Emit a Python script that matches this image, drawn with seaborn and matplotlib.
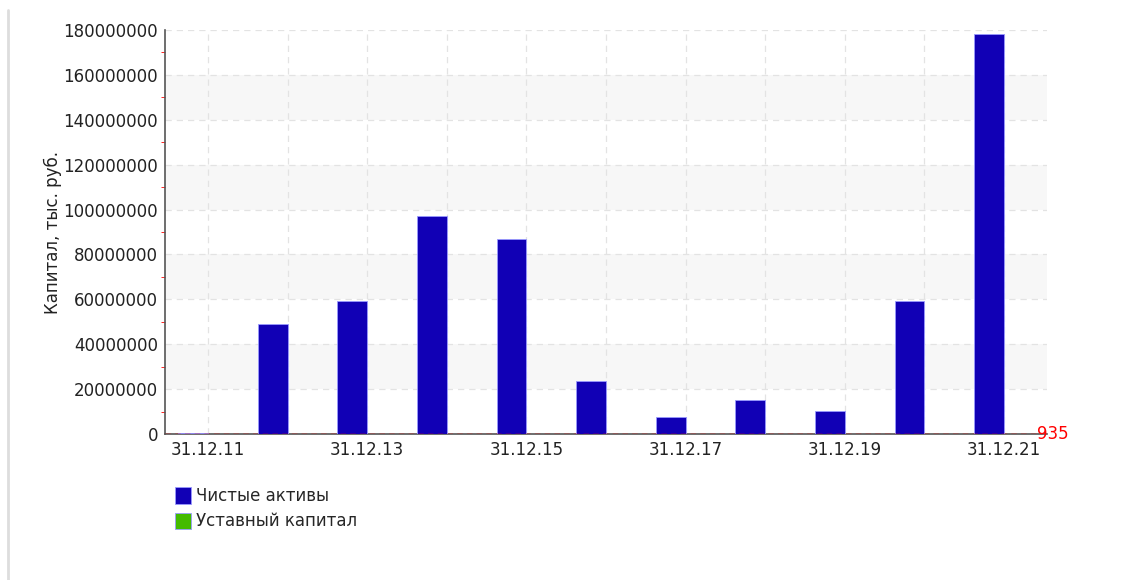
import matplotlib
matplotlib.use('Agg')
import pandas as pd
import matplotlib.pyplot as plt
import seaborn as sns
from matplotlib.ticker import FuncFormatter, MultipleLocator
from matplotlib.lines import Line2D

# chart data
dates = ['31.12.11', '31.12.12', '31.12.13', '31.12.14', '31.12.15', '31.12.16',
         '31.12.17', '31.12.18', '31.12.19', '31.12.20', '31.12.21']
net_assets = [400000, 49000000, 59300000, 97100000, 86900000, 23600000,
              7600000, 15100000, 10200000, 59300000, 178200000]
charter_capital = [935] * 11
series_names = ['Чистые активы', 'Уставный капитал']
last_label = '935'

df = pd.DataFrame({
    'date': dates * 2,
    'value': net_assets + charter_capital,
    'series': [series_names[0]] * len(dates) + [series_names[1]] * len(dates),
})

sns.set_style('white')
plt.rcParams['font.family'] = ['DejaVu Sans']

fig = plt.figure(figsize=(11.31, 5.8), dpi=100)
ax = fig.add_axes([165 / 1131, 1 - 434 / 580, (1047 - 165) / 1131, (434 - 30) / 580])

# alternating background bands
for lo in [20e6, 60e6, 100e6, 140e6]:
    ax.axhspan(lo, lo + 20e6, color='#f7f7f7', zorder=0, lw=0)

sns.barplot(df, x='date', y='value', hue='series', order=dates,
            palette=['#1100b5', '#44bb00'], saturation=1, width=0.75, gap=0,
            edgecolor='#9a9aff', linewidth=0.6, ax=ax, zorder=3)

ax.axhline(0, color='red', ls=(0, (4, 3)), lw=1, zorder=4)

ax.set_xlim(-0.54, 10.54)
ax.set_ylim(0, 180e6)
ax.yaxis.set_major_locator(MultipleLocator(20e6))
ax.yaxis.set_minor_locator(MultipleLocator(10e6))
ax.yaxis.set_major_formatter(FuncFormatter(lambda v, _: f'{int(round(v))}'))
ax.set_xticks(range(len(dates)))
ax.set_xticklabels([d if i % 2 == 0 else '' for i, d in enumerate(dates)])

ax.grid(True, which='major', color='#e3e3e3', ls=(0, (5, 4)), lw=0.9)
ax.set_axisbelow(True)
for s in ['top', 'right']:
    ax.spines[s].set_visible(False)
for s in ['left', 'bottom']:
    ax.spines[s].set_color('#555555')
    ax.spines[s].set_linewidth(1.2)

fs = 12
ax.tick_params(axis='both', which='major', labelsize=fs, colors='#222222')
ax.tick_params(axis='y', which='major', length=5, direction='out', color='#555555', pad=0)
ax.tick_params(axis='y', which='minor', length=3, direction='out', color='red', left=True)
ax.tick_params(axis='x', which='major', length=6, direction='inout', color='#333333', pad=2)

ax.set_xlabel('')
ax.set_ylabel('Капитал, тыс. руб.', fontsize=fs, color='#222222', labelpad=1)

ax.text(10.41, charter_capital[-1], last_label, color='red', fontsize=fs,
        ha='left', va='center', clip_on=False)

handles, labels = ax.get_legend_handles_labels()
ax.legend(handles, labels, loc='upper left',
          bbox_to_anchor=(175 / 1131, 1 - 487 / 580), bbox_transform=fig.transFigure,
          frameon=False, fontsize=fs, handlelength=0.95, handleheight=1.15,
          handletextpad=0.3, labelspacing=0.45, borderpad=0, borderaxespad=0)

fig.add_artist(Line2D([8 / 1131, 8 / 1131], [0, 1 - 10 / 580],
                      transform=fig.transFigure, color='#dddddd', lw=2))

fig.savefig('out.png', dpi=100)
